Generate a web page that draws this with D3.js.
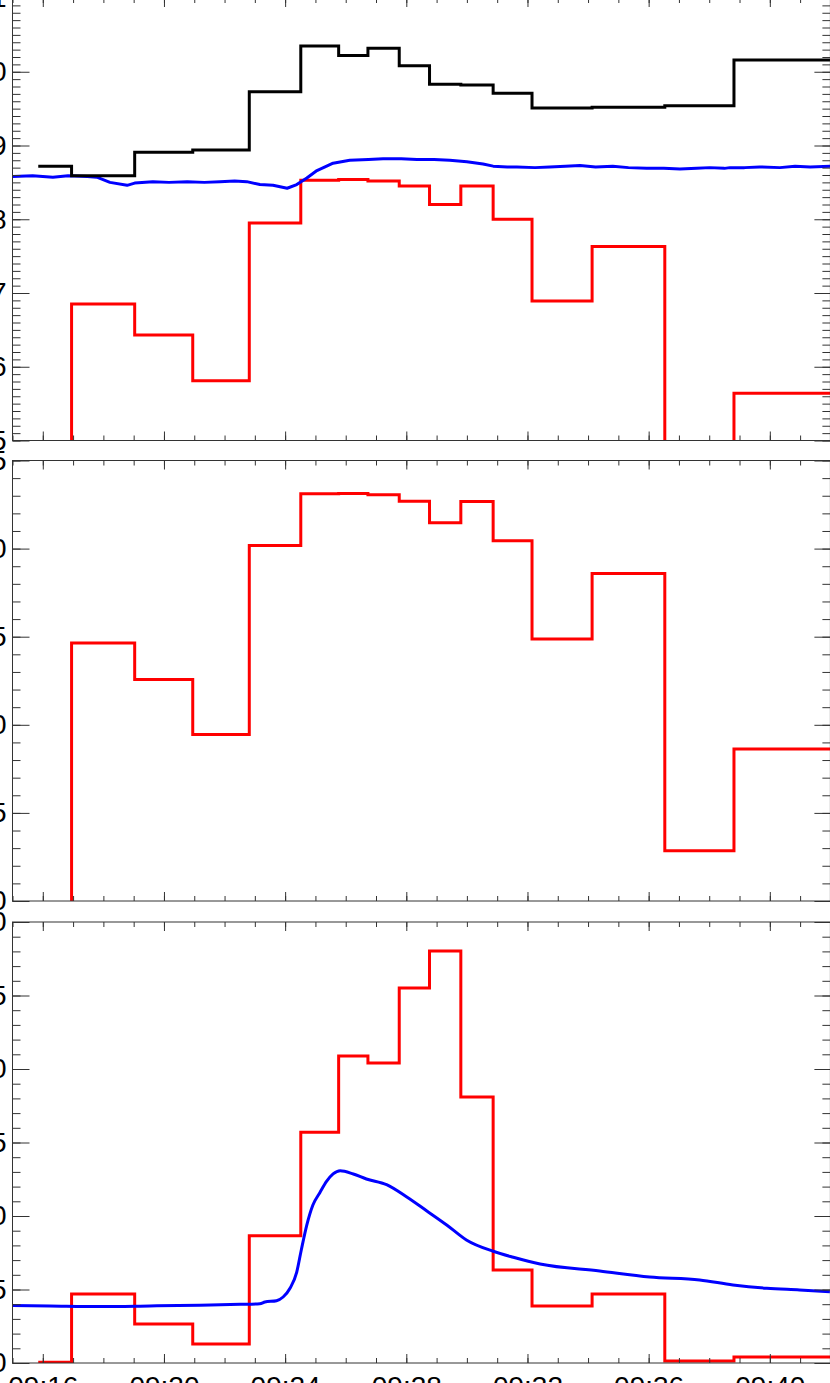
<!DOCTYPE html>
<html><head><meta charset="utf-8">
<script src="https://cdn.jsdelivr.net/npm/d3@7"></script>
<style>body{margin:0;background:#fff;overflow:hidden}svg{display:block}</style>
</head><body><svg id="c" width="830" height="1383"></svg>
<script>
// ---- data ----
const binEdges = ["09:15:51","09:16:57","09:19:02","09:20:57","09:22:49","09:24:31","09:25:46","09:26:44",
  "09:27:46","09:28:46","09:29:48","09:30:52","09:32:09","09:34:08","09:36:32","09:38:49","09:42:00"];
const blackTop = [8.72,8.59,8.91,8.94,9.73,10.35,10.22,10.32,10.08,9.83,9.82,9.71,9.51,9.52,9.54,10.16];
const redTop   = [4.0,6.85,6.43,5.81,7.95,8.53,8.54,8.52,8.45,8.20,8.45,8.00,6.89,7.63,4.0,5.64];
const redMid   = [-1,14.64,12.57,9.45,20.18,23.11,23.13,23.06,22.69,21.47,22.68,20.45,14.87,18.59,2.85,8.63];
const redBot   = [0.05,4.69,2.65,1.29,8.66,15.69,20.88,20.41,25.51,28.03,18.10,6.33,3.88,4.69,0.14,0.41];

const blueTopT = ["09:15:00","09:15:40","09:16:20","09:16:50","09:17:28","09:17:47","09:18:13","09:18:47","09:19:02",
  "09:19:38","09:20:10","09:20:46","09:21:20","09:21:51","09:22:20","09:22:44","09:23:10","09:23:36","09:24:04",
  "09:24:23","09:24:43","09:25:03","09:25:35","09:26:08","09:26:45","09:27:14","09:27:50","09:28:21","09:28:55",
  "09:29:26","09:30:00","09:30:32","09:30:52","09:31:20","09:31:39","09:32:15","09:32:44","09:33:15","09:33:44",
  "09:34:15","09:34:49","09:35:20","09:35:56","09:36:30","09:37:02","09:37:35","09:38:01","09:38:30","09:38:41",
  "09:39:10","09:39:40","09:40:20","09:40:50","09:41:20","09:42:00"];
const blueTopV = [8.58,8.59,8.57,8.59,8.58,8.57,8.50,8.46,8.49,
  8.51,8.50,8.51,8.50,8.51,8.52,8.51,8.47,8.46,8.42,
  8.47,8.56,8.66,8.76,8.80,8.81,8.82,8.82,8.81,8.81,
  8.80,8.78,8.75,8.72,8.71,8.71,8.70,8.71,8.72,8.73,
  8.71,8.72,8.70,8.69,8.69,8.68,8.69,8.70,8.69,8.70,
  8.70,8.71,8.70,8.72,8.71,8.72];

const blueBotT = ["09:15:00","09:16:14","09:17:53","09:19:32","09:21:11","09:22:31","09:23:10","09:23:20","09:23:43",
  "09:23:56","09:24:10","09:24:23","09:24:32","09:24:43","09:24:55","09:25:09","09:25:22","09:25:35","09:25:49",
  "09:26:15","09:26:41","09:27:21","09:28:01","09:28:40","09:29:20","09:29:59","09:30:52","09:31:32","09:32:25",
  "09:34:23","09:36:02","09:37:41","09:38:47","09:39:54","09:40:59","09:41:59"];
const blueBotV = [3.91,3.88,3.84,3.88,3.93,3.99,4.03,4.15,4.24,
  4.49,5.10,6.19,7.69,9.40,10.75,11.60,12.35,12.86,13.08,
  12.86,12.52,12.13,11.29,10.36,9.39,8.37,7.60,7.19,6.73,
  6.26,5.85,5.65,5.31,5.08,4.97,4.85];

const xDomain = ["09:15:00","09:42:00"];
const yTicksTop = [5,6,7,8,9,10,11];
const yTicksMid = [0,5,10,15,20,25];
const yTicksBot = [0,5,10,15,20,25,30];

// ---- drawing ----
const parse = d3.timeParse("%H:%M:%S");
const svg = d3.select("#c");
const x = d3.scaleTime().domain(xDomain.map(parse)).range([12.5, 830.4]);
const L = 12.5, R = 830.4;
const FONT = "'Liberation Sans', Arial, Helvetica, sans-serif";

const panels = [
  {top:-2, bottom:440.5, domain:[5,11], ticks:yTicksTop, minorStep:0.1},
  {top:460.5, bottom:901, domain:[0,25], ticks:yTicksMid, minorStep:1},
  {top:922, bottom:1363, domain:[0,30], ticks:yTicksBot, minorStep:1}
];
panels.forEach((p,i)=>{
  p.y = d3.scaleLinear().domain(p.domain).range([p.bottom, p.top]);
  const id = "clip"+i;
  svg.append("clipPath").attr("id", id).append("rect")
    .attr("x", L).attr("y", p.top).attr("width", R-L).attr("height", p.bottom-p.top);
  p.g = svg.append("g").attr("clip-path", `url(#${id})`);
});

function stepData(vals){
  const pts = vals.map((v,i)=>({t:parse(binEdges[i]), v}));
  pts.push({t:parse(binEdges[binEdges.length-1]), v:vals[vals.length-1]});
  return pts;
}
function drawStep(p, vals, color){
  const line = d3.line().x(d=>x(d.t)).y(d=>p.y(d.v)).curve(d3.curveStepAfter);
  p.g.append("path").datum(stepData(vals)).attr("d", line)
    .attr("fill","none").attr("stroke",color).attr("stroke-width",3).attr("stroke-linejoin","miter");
}
function drawCurve(p, ts, vs, color, curve){
  const data = ts.map((t,i)=>({t:parse(t), v:vs[i]}));
  const line = d3.line().x(d=>x(d.t)).y(d=>p.y(d.v)).curve(curve);
  p.g.append("path").datum(data).attr("d", line)
    .attr("fill","none").attr("stroke",color).attr("stroke-width",3).attr("stroke-linejoin","round");
}

drawStep(panels[0], redTop, "#ff0000");
drawCurve(panels[0], blueTopT, blueTopV, "#0000ff", d3.curveLinear);
drawStep(panels[0], blackTop, "#000000");
drawStep(panels[1], redMid, "#ff0000");
drawStep(panels[2], redBot, "#ff0000");
drawCurve(panels[2], blueBotT, blueBotV, "#0000ff", d3.curveMonotoneX);

// axes
const majorX = d3.timeMinute.every(4).range(x.domain()[0], new Date(+x.domain()[1]+1));
const minorX = d3.timeMinute.every(1).range(x.domain()[0], new Date(+x.domain()[1]+1));
const AX = "#333";
panels.forEach((p,i)=>{
  const minorY = d3.range(p.domain[0], p.domain[1]+1e-9, p.minorStep).map(v=>+v.toFixed(3));
  const ax = svg.append("g").attr("class","axes");
  // left
  ax.append("g").attr("transform",`translate(${L},0)`)
    .call(d3.axisLeft(p.y).tickValues(minorY).tickSize(-8).tickFormat(""));
  ax.append("g").attr("transform",`translate(${L},0)`)
    .call(d3.axisLeft(p.y).tickValues(p.ticks).tickSize(-17).tickPadding(6).tickFormat(d3.format("d")))
    .call(g=>g.selectAll("text").attr("font-size",28).attr("font-family",FONT).attr("fill","#000"));
  // right
  ax.append("g").attr("transform",`translate(${R},0)`)
    .call(d3.axisRight(p.y).tickValues(minorY).tickSize(-8).tickFormat(""));
  ax.append("g").attr("transform",`translate(${R},0)`)
    .call(d3.axisRight(p.y).tickValues(p.ticks).tickSize(-16).tickFormat(""));
  // top
  ax.append("g").attr("transform",`translate(0,${p.top})`)
    .call(d3.axisTop(x).tickValues(minorX).tickSize(-5).tickFormat(""));
  ax.append("g").attr("transform",`translate(0,${p.top})`)
    .call(d3.axisTop(x).tickValues(majorX).tickSize(-9).tickFormat(""));
  // bottom
  ax.append("g").attr("transform",`translate(0,${p.bottom})`)
    .call(d3.axisBottom(x).tickValues(minorX).tickSize(-5).tickFormat(""));
  const bx = ax.append("g").attr("transform",`translate(0,${p.bottom})`)
    .call(d3.axisBottom(x).tickValues(majorX).tickSize(-9).tickPadding(13)
      .tickFormat(i===2 ? d3.timeFormat("%H:%M") : ""));
  bx.selectAll("text").attr("font-size",28).attr("font-family",FONT).attr("fill","#000");
  ax.selectAll(".domain").remove();
  ax.selectAll(".tick line").attr("stroke",AX).attr("stroke-width",1);
  ax.append("rect").attr("x",L).attr("y",p.top).attr("width",R-L).attr("height",p.bottom-p.top)
    .attr("fill","none").attr("stroke",AX).attr("stroke-width",1);
});
</script></body></html>
